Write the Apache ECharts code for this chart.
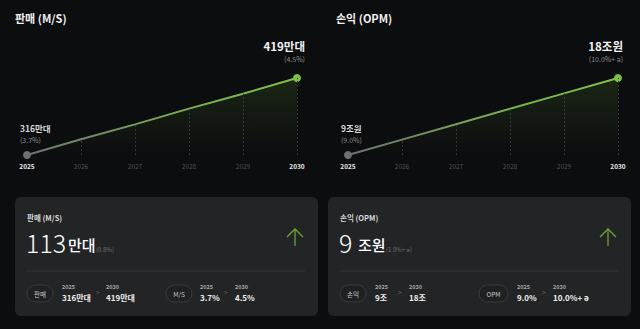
<!DOCTYPE html>
<html><head><meta charset="utf-8">
<script src="https://cdn.jsdelivr.net/npm/echarts@6/dist/echarts.min.js"></script>
<style>html,body{margin:0;padding:0;background:#0c0d0f;}#c{width:640px;height:329px;}</style>
</head><body><div id="c"></div>
<script>
const years = ['2025','2026','2027','2028','2029','2030'];
const salesValues = [316, 337, 357, 378, 398, 419];
const profitValues = [9, 10.8, 12.6, 14.4, 16.2, 18];
const salesEndLabels = ['316만대', '419만대'];
const salesShareLabels = ['(3.7%)', '(4.5%)'];
const profitEndLabels = ['9조원', '18조원'];
const profitShareLabels = ['(9.0%)', '(10.0%+ ə)'];
const chartTitles = ['판매 (M/S)', '손익 (OPM)'];
const cardBig = ['113', '9'];
const cardUnit = ['만대', '조원'];
const cardDelta = ['(0.8%)', '(1.0%+ ə)'];
const cardPills = [['판매', 'M/S'], ['손익', 'OPM']];
const cardFrom = [['316만대', '3.7%'], ['9조', '9.0%']];
const cardTo = [['419만대', '4.5%'], ['18조', '10.0%+ ə']];

const FONT = '"Noto Sans CJK KR", "Noto Sans", sans-serif';
const chart = echarts.init(document.getElementById('c'), null, {renderer: 'svg'});

function seriesFor(idx, values, endLabels, shareLabels, rightOff) {
  const last = values.length - 1;
  const data = values.map((v, i) => {
    if (i === 0) return {value: v, symbolSize: 8, itemStyle: {color: '#6b7170'},
      label: {show: true, position: 'top', align: 'left', distance: 6, offset: [-7, 0],
        formatter: '{a|' + endLabels[0] + '}\n{b|' + shareLabels[0] + '}',
        rich: {a: {fontSize: 8.5, fontWeight: 'bold', color: '#d8d8d8', lineHeight: 12, fontFamily: FONT},
               b: {fontSize: 7, color: '#8a8c8e', lineHeight: 11, fontFamily: FONT}}}};
    if (i === last) return {value: v, symbolSize: 8, itemStyle: {color: '#7cc242'},
      label: {show: true, position: 'top', align: 'right', distance: 9, offset: [rightOff, 0],
        formatter: '{a|' + endLabels[1] + '}\n{b|' + shareLabels[1] + '}',
        rich: {a: {fontSize: 11.5, fontWeight: 'bold', color: '#f2f2f2', lineHeight: 15, align: 'right', fontFamily: FONT},
               b: {fontSize: 7, color: '#8a8c8e', lineHeight: 12, align: 'right', fontFamily: FONT}}}};
    return {value: v, symbol: 'none'};
  });
  return {
    type: 'line', xAxisIndex: idx, yAxisIndex: idx, data: data, symbol: 'circle', showSymbol: true,
    lineStyle: {width: 2, color: new echarts.graphic.LinearGradient(0, 0, 1, 0, [
      {offset: 0, color: '#6d7271'}, {offset: 0.5, color: '#78a853'}, {offset: 1, color: '#7ec443'}])},
    areaStyle: {color: new echarts.graphic.LinearGradient(0, 0, 0, 1, [
      {offset: 0, color: 'rgba(110,190,50,0.2)'}, {offset: 1, color: 'rgba(110,190,50,0.0)'}])},
    z: 3,
    markLine: {silent: true, symbol: 'none', label: {show: false},
      lineStyle: {type: [2, 2], width: 1, color: '#34373a'},
      data: values.slice(1).map((v, k) => [{coord: [k + 1, values[0]]}, {coord: [k + 1, v]}])}
  };
}

function xAxisFor(idx) {
  return {type: 'category', gridIndex: idx, data: years, boundaryGap: false,
    axisLine: {show: false}, axisTick: {show: false}, splitLine: {show: false},
    axisLabel: {margin: 8, fontSize: 6.5, fontFamily: FONT,
      formatter: function (v, i) { return (i === 0 || i === years.length - 1) ? '{w|' + v + '}' : '{g|' + v + '}'; },
      rich: {w: {color: '#e8e8e8', fontWeight: 'bold', fontSize: 6.5, fontFamily: FONT},
             g: {color: '#4e5154', fontWeight: 'normal', fontSize: 6.5, fontFamily: FONT}}}};
}

function cardGraphics(ox, k) {
  const g = [];
  const cx = ox + 12;
  g.push({type: 'rect', shape: {x: ox, y: 197, width: 303, height: 119, r: 6}, style: {fill: '#232426'}, z: 1});
  g.push({type: 'text', x: cx, y: 217, style: {text: chartTitles[k], fill: '#d6d6d6', font: 'bold 7.5px ' + FONT, verticalAlign: 'middle'}, z: 2});
  const unitX = k === 0 ? 41 : 18;
  const deltaX = k === 0 ? 69 : 46;
  g.push({type: 'text', x: cx - 1, y: 242, style: {text: cardBig[k], fill: '#ffffff', font: '300 25px ' + FONT, verticalAlign: 'middle'}, z: 2});
  g.push({type: 'text', x: cx + unitX, y: 244, style: {text: cardUnit[k], fill: '#ffffff', font: '500 15px ' + FONT, verticalAlign: 'middle'}, z: 2});
  g.push({type: 'text', x: cx + deltaX, y: 249, style: {text: cardDelta[k], fill: '#6f7173', font: '6px ' + FONT, verticalAlign: 'middle'}, z: 2});
  const ax = ox + 280;
  g.push({type: 'polyline', shape: {points: [[ax - 8, 237], [ax, 229], [ax + 8, 237]]}, style: {stroke: '#6aa534', lineWidth: 1.3, fill: 'none'}, z: 2});
  g.push({type: 'line', shape: {x1: ax, y1: 229, x2: ax, y2: 246}, style: {stroke: '#6aa534', lineWidth: 1.3}, z: 2});
  g.push({type: 'line', shape: {x1: cx, y1: 271, x2: ox + 290, y2: 271}, style: {stroke: '#35373a', lineWidth: 1}, z: 2});
  const groups = k === 0
    ? [{px: cx, pw: 26, fx: ox + 47, ar: ox + 81, tx: ox + 91}, {px: ox + 151, pw: 26, fx: ox + 185, ar: ox + 209, tx: ox + 220}]
    : [{px: cx, pw: 26, fx: ox + 47, ar: ox + 70, tx: ox + 81}, {px: ox + 151, pw: 29, fx: ox + 189, ar: ox + 214, tx: ox + 225}];
  groups.forEach((gr, j) => {
    g.push({type: 'rect', shape: {x: gr.px, y: 285, width: gr.pw, height: 17, r: 8.5}, style: {fill: '#1f2022', stroke: '#383b3e', lineWidth: 1}, z: 2});
    g.push({type: 'text', x: gr.px + gr.pw / 2, y: 293.5, style: {text: cardPills[k][j], fill: '#c8c8c8', font: '6.5px ' + FONT, align: 'center', verticalAlign: 'middle'}, z: 3});
    g.push({type: 'text', x: gr.fx, y: 287, style: {text: years[0], fill: '#a8a8a8', font: 'bold 5.5px ' + FONT, verticalAlign: 'middle'}, z: 2});
    g.push({type: 'text', x: gr.fx, y: 297.5, style: {text: cardFrom[k][j], fill: '#eeeeee', font: 'bold 8px ' + FONT, verticalAlign: 'middle'}, z: 2});
    g.push({type: 'text', x: gr.ar, y: 292, style: {text: '>', fill: '#5d6063', font: '7px ' + FONT, verticalAlign: 'middle'}, z: 2});
    g.push({type: 'text', x: gr.tx, y: 287, style: {text: years[years.length - 1], fill: '#a8a8a8', font: 'bold 5.5px ' + FONT, verticalAlign: 'middle'}, z: 2});
    g.push({type: 'text', x: gr.tx, y: 297.5, style: {text: cardTo[k][j], fill: '#eeeeee', font: 'bold 8px ' + FONT, verticalAlign: 'middle'}, z: 2});
  });
  return g;
}

const graphics = [
  {type: 'text', x: 15, y: 18, style: {text: chartTitles[0], fill: '#f0f0f0', font: 'bold 11px ' + FONT, verticalAlign: 'middle'}},
  {type: 'text', x: 336, y: 18, style: {text: chartTitles[1], fill: '#f0f0f0', font: 'bold 11px ' + FONT, verticalAlign: 'middle'}}
].concat(cardGraphics(15, 0), cardGraphics(328, 1));

chart.setOption({
  backgroundColor: '#0c0d0f',
  animation: false,
  grid: [
    {left: 27, right: 343, top: 78, bottom: 174},
    {left: 348, right: 22, top: 78, bottom: 174}
  ],
  xAxis: [xAxisFor(0), xAxisFor(1)],
  yAxis: [
    {type: 'value', gridIndex: 0, min: 316, max: 419, show: false},
    {type: 'value', gridIndex: 1, min: 9, max: 18, show: false}
  ],
  series: [
    seriesFor(0, salesValues, salesEndLabels, salesShareLabels, 8),
    seriesFor(1, profitValues, profitEndLabels, profitShareLabels, 5)
  ],
  graphic: graphics
});
</script></body></html>
